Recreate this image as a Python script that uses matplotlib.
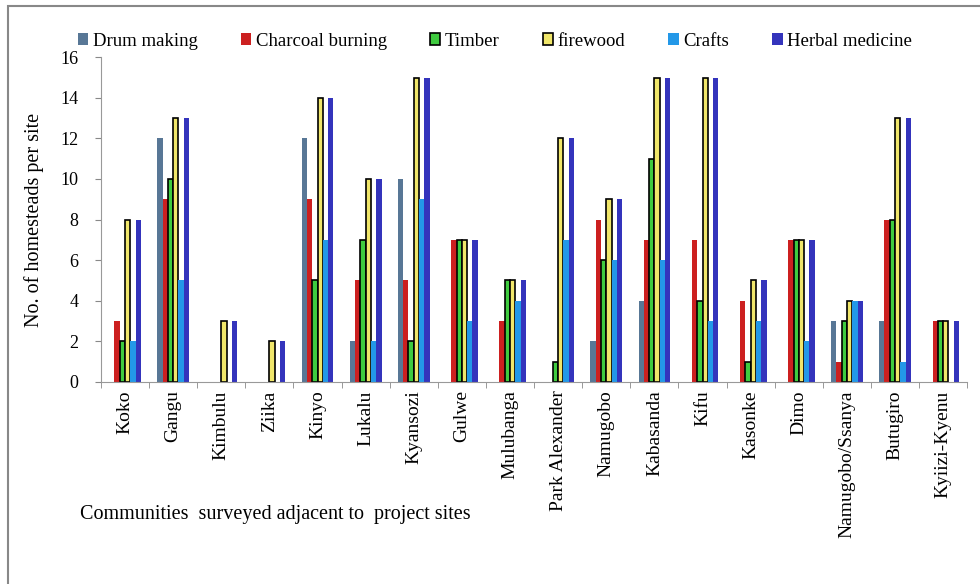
import matplotlib.pyplot as plt
import matplotlib.patches as patches
import numpy as np

# data
sites = ["Koko", "Gangu", "Kimbulu", "Ziika", "Kinyo", "Lukalu", "Kyansozi", "Gulwe",
         "Mulubanga", "Park Alexander", "Namugobo", "Kabasanda", "Kifu", "Kasonke",
         "Dimo", "Namugobo/Ssanya", "Butugiro", "Kyiizi-Kyenu"]
drum_making = [0, 12, 0, 0, 12, 2, 10, 0, 0, 0, 2, 4, 0, 0, 0, 3, 3, 0]
charcoal_burning = [3, 9, 0, 0, 9, 5, 5, 7, 3, 0, 8, 7, 7, 4, 7, 1, 8, 3]
timber = [2, 10, 0, 0, 5, 7, 2, 7, 5, 1, 6, 11, 4, 1, 7, 3, 8, 3]
firewood = [8, 13, 3, 2, 14, 10, 15, 7, 5, 12, 9, 15, 15, 5, 7, 4, 13, 3]
crafts = [2, 5, 0, 0, 7, 2, 9, 3, 4, 7, 6, 6, 3, 3, 2, 4, 1, 0]
herbal_medicine = [8, 13, 3, 2, 14, 10, 15, 7, 5, 12, 9, 15, 15, 5, 7, 4, 13, 3]

series = [("Drum making", drum_making, "#587796", "none"),
          ("Charcoal burning", charcoal_burning, "#CC2020", "none"),
          ("Timber", timber, "#3FCB3F", "black"),
          ("firewood", firewood, "#F0E66A", "black"),
          ("Crafts", crafts, "#2398E8", "none"),
          ("Herbal medicine", herbal_medicine, "#3434BC", "none")]

plt.rcParams['font.family'] = ['Liberation Serif', 'DejaVu Serif']

fig = plt.figure(figsize=(9.8, 5.84), dpi=100)
ax = fig.add_axes([0.103, 0.346, 0.884, 0.556])

x = np.arange(len(sites))
w = 0.11
for i, (nome, vals, cor, borda) in enumerate(series):
    # sem contorno nas barras de altura zero
    lws = [1.2 if (borda != "none" and v > 0) else 0 for v in vals]
    ax.bar(x + (i - 2.5) * w, vals, width=w, color=cor, edgecolor=borda,
           linewidth=lws, label=nome)

ax.set_xlim(-0.5, len(sites) - 0.5)
ax.set_ylim(0, 16)
ax.set_yticks(range(0, 17, 2))
ax.tick_params(axis='y', labelsize=13, length=4, pad=12, color="#888888")
ax.set_xticks(x)
ax.set_xticklabels(sites, rotation=90, fontsize=14)
ax.tick_params(axis='x', length=0, pad=6)
ax.set_xticks(np.arange(-0.5, len(sites), 1), minor=True)
ax.tick_params(axis='x', which='minor', length=4, color="#888888")
for s in ["top", "right"]:
    ax.spines[s].set_visible(False)
for s in ["left", "bottom"]:
    ax.spines[s].set_color("#999999")

ax.set_ylabel("No. of homesteads per site", fontsize=14.5, labelpad=12)
fig.text(0.082, 0.112, "Communities  surveyed adjacent to  project sites", fontsize=14.5)

fig.legend(loc="upper center", bbox_to_anchor=(0.505, 0.973), ncol=6, frameon=False,
           fontsize=13.5, handlelength=0.55, handleheight=0.55, handletextpad=0.25,
           columnspacing=2.3)

# borda do quadro
fig.patches.append(patches.Rectangle((0.008, -0.1), 1.2, 0.1 + 0.9897, transform=fig.transFigure,
                                     fill=False, edgecolor="#888888", linewidth=1.5))

plt.savefig("out.png", dpi=100)
